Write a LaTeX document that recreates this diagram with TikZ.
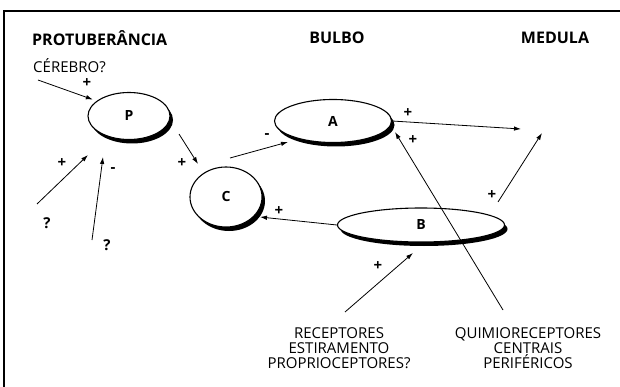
\documentclass[tikz,border=0pt]{standalone}
\usepackage{fontspec}
\setmainfont{Open Sans}
\usetikzlibrary{shapes.geometric,shadows,arrows.meta}

\tikzset{
 centro/.style={draw,ellipse,line width=1.1pt,fill=white,inner sep=0pt,
   font=\bfseries\fontsize{14}{14}\selectfont,
   drop shadow={shadow xshift=3pt,shadow yshift=-4pt,fill=black,opacity=1}},
 titulo/.style={font=\bfseries\fontsize{16}{16}\selectfont,inner sep=0pt},
 rotulo/.style={font=\fontsize{15}{15}\selectfont,align=center,inner sep=0pt},
 sinal/.style={font=\bfseries\fontsize{15}{15}\selectfont,inner sep=0pt},
 seta/.style={-{Latex[length=7pt,width=4.5pt]},line width=0.8pt}
}

\begin{document}
\begin{tikzpicture}[x=1pt,y=-1pt]
\useasboundingbox (0,0) rectangle (620,387);
% moldura
\draw[line width=2pt] (620,11) -- (4,11) -- (4,387);

% regioes
\node[titulo,anchor=west] (protub) at (32,38) {PROTUBERÂNCIA};
\node[titulo] (bulbo) at (337,38) {BULBO};
\node[titulo] (medula) at (555,38) {MEDULA};
\node[rotulo,anchor=west] (cerebro) at (33,66) {CÉREBRO?};

% centros
\node[centro,minimum width=82pt,minimum height=47pt] (P) at (129,116) {P};
\node[centro,minimum width=72pt,minimum height=60pt] (C) at (226,197) {C};
\node[centro,minimum width=117pt,minimum height=43pt] (A) at (333,121) {A};
\node[centro,minimum width=167pt,minimum height=34pt] (B) at (421,225) {B};

% receptores
\node[rotulo] (recep) at (339,348) {RECEPTORES\\ESTIRAMENTO\\PROPRIOCEPTORES?};
\node[rotulo] (quimio) at (528,348) {QUIMIORECEPTORES\\CENTRAIS\\PERIFÉRICOS};

% pontas livres
\coordinate (cb) at (38,80);
\coordinate (q1base) at (37,204);
\coordinate (q1tip) at (88,155);
\coordinate (q2base) at (92,240);
\coordinate (q2tip) at (103,157);
\coordinate (pc1) at (179,134);
\coordinate (pc2) at (198,164);
\coordinate (ca1) at (230,158);
\coordinate (ca2) at (288,142);
\coordinate (med1) at (521,129);
\coordinate (bm1) at (498,202);
\coordinate (bm2) at (542,133);
\coordinate (qm) at (503,310);
\coordinate (qa) at (395,132);
\coordinate (rb) at (345,312);
\coordinate (rt) at (413,253);
\coordinate (bc) at (260,217);

% setas
\draw[seta,shorten >=4pt] (cb) -- (P.155);
\draw[seta] (q1base) -- (q1tip);
\draw[seta] (q2base) -- (q2tip);
\draw[seta] (pc1) -- (pc2);
\draw[seta] (ca1) -- (ca2);
\draw[seta] (A.east) -- (med1);
\draw[seta] (bm1) -- (bm2);
\draw[seta] (B.west) -- (bc);
\draw[seta] (qm) -- (qa);
\draw[seta] (rb) -- (rt);

% sinais
\node[sinal] (s1) at (87,83) {+};
\node[sinal] (s2) at (62,163) {+};
\node[sinal] (s3) at (113,170) {-};
\node[sinal] (s4) at (182,163) {+};
\node[sinal] (s5) at (267,136) {-};
\node[sinal] (s6) at (408,113) {+};
\node[sinal] (s7) at (413,140) {+};
\node[sinal] (s8) at (492,195) {+};
\node[sinal] (s9) at (279,211) {+};
\node[sinal] (s10) at (378,266) {+};
\node[sinal] (i1) at (47,223) {?};
\node[sinal] (i2) at (107,245) {?};
\end{tikzpicture}
\end{document}
